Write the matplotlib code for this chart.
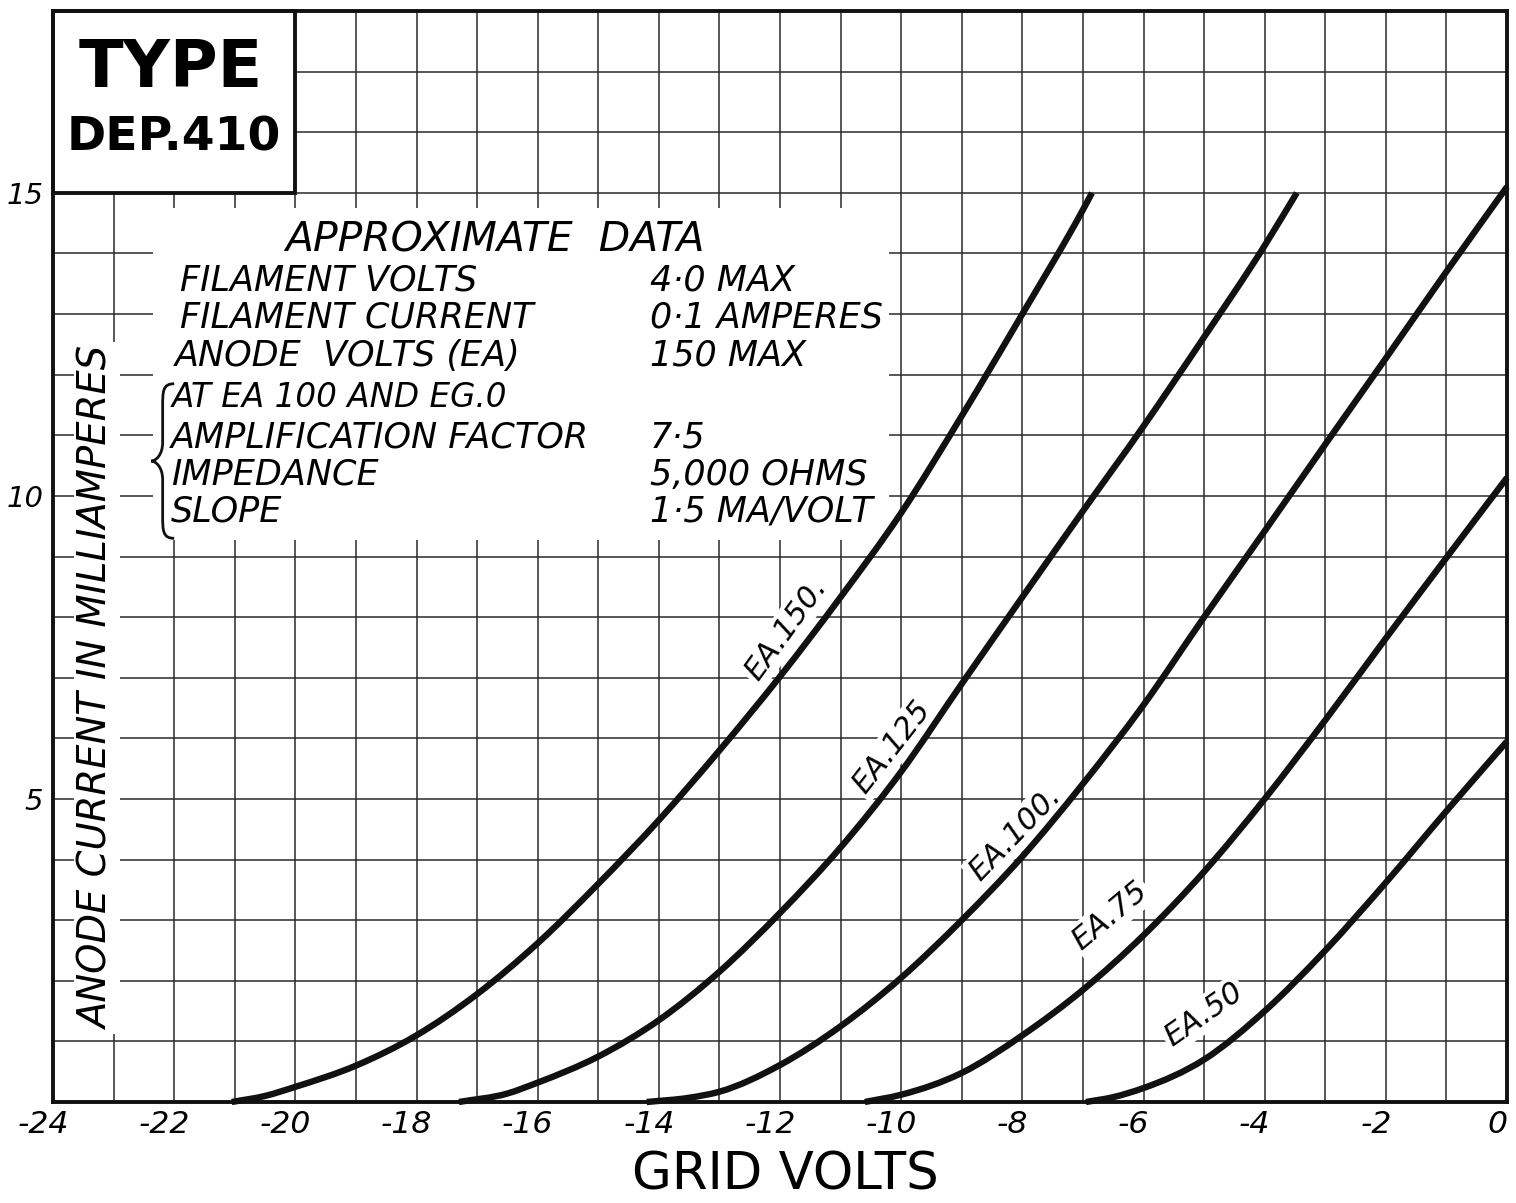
import numpy as np
import matplotlib
matplotlib.use("Agg")
import matplotlib.pyplot as plt
from matplotlib import font_manager, transforms
from matplotlib.patches import Rectangle, PathPatch
from matplotlib.path import Path

# --- data (grid volts, anode mA) ---
ea150_v = [-21.05, -20.5, -20, -19, -18, -17, -16, -15, -14, -13, -12, -11, -10, -9, -8, -7, -6.85]
ea150_i = [0, 0.1, 0.25, 0.6, 1.1, 1.78, 2.62, 3.6, 4.65, 5.8, 7.02, 8.33, 9.72, 11.32, 13.0, 14.72, 15.0]

ea125_v = [-17.3, -16.5, -16, -15, -14, -13, -12, -11, -10, -9, -8, -7, -6, -5, -4, -3.47]
ea125_i = [0, 0.14, 0.32, 0.75, 1.35, 2.15, 3.12, 4.2, 5.45, 6.9, 8.33, 9.75, 11.15, 12.62, 14.13, 15.0]

ea100_v = [-14.2, -13.5, -13, -12, -11, -10, -9, -8, -7, -6, -5, -4, -3, -2, -1, 0]
ea100_i = [0, 0.07, 0.17, 0.61, 1.25, 2.05, 3.0, 4.05, 5.25, 6.55, 8.0, 9.42, 10.85, 12.27, 13.7, 15.1]

ea75_v = [-10.6, -10, -9, -8, -7, -6, -5, -4, -3, -2, -1, 0]
ea75_i = [0, 0.12, 0.48, 1.1, 1.85, 2.75, 3.8, 5.0, 6.3, 7.65, 8.98, 10.3]

ea50_v = [-6.95, -6.5, -6, -5, -4, -3, -2, -1, 0]
ea50_i = [0, 0.08, 0.23, 0.7, 1.5, 2.5, 3.62, 4.8, 5.95]

curve_names = ["EA.150.", "EA.125", "EA.100.", "EA.75", "EA.50"]

x_ticks = list(range(-24, 1))
x_ticklabels = ["-24", "", "-22", "", "-20", "", "-18", "", "-16", "", "-14", "", "-12",
                "", "-10", "", "-8", "", "-6", "", "-4", "", "-2", "", "0"]
y_ticks = list(range(0, 19))
y_ticklabels = ["" if k not in (5, 10, 15) else str(k) for k in y_ticks]

data_labels = ["FILAMENT VOLTS", "FILAMENT CURRENT", "ANODE  VOLTS (EA)", "AT EA 100 AND EG.0",
               "AMPLIFICATION FACTOR", "IMPEDANCE", "SLOPE"]
data_values = ["4·0 MAX", "0·1 AMPERES", "150 MAX", "", "7·5", "5,000 OHMS", "1·5 MA/VOLT"]


# narrow font looks closer to the hand lettering, if we have it
try:
    font_manager.findfont("Liberation Sans Narrow", fallback_to_default=False)
    narrow = True
except ValueError:
    narrow = False
HAND = ["Liberation Sans Narrow", "DejaVu Sans"] if narrow else ["DejaVu Sans"]
k = 1.0 if narrow else 0.84   # shrink sizes a bit for the wider fallback


def smooth_path(v, i):
    # cubic hermite through the read points, so the pen line has no corners
    v = np.asarray(v, float)
    i = np.asarray(i, float)
    m = np.gradient(i, v)
    verts = [(v[0], i[0])]
    codes = [Path.MOVETO]
    for a in range(len(v) - 1):
        h = v[a+1] - v[a]
        verts += [(v[a] + h/3, i[a] + m[a]*h/3),
                  (v[a+1] - h/3, i[a+1] - m[a+1]*h/3),
                  (v[a+1], i[a+1])]
        codes += [Path.CURVE4]*3
    return Path(verts, codes)


def brace(ax, xl, xr, y0, y1, **kw):
    xm = (xl + xr) / 2
    h = y1 - y0
    ym = (y0 + y1) / 2
    verts = [(xr, y1),
             (xm, y1), (xm, y1 - 0.05*h), (xm, y1 - 0.15*h),
             (xm, ym + 0.12*h),
             (xm, ym + 0.04*h), (xl + 0.2*(xr - xl), ym), (xl, ym),
             (xl + 0.2*(xr - xl), ym), (xm, ym - 0.04*h), (xm, ym - 0.12*h),
             (xm, y0 + 0.15*h),
             (xm, y0 + 0.05*h), (xm, y0), (xr, y0)]
    codes = [Path.MOVETO] + [Path.CURVE4]*3 + [Path.LINETO] + [Path.CURVE4]*6 + \
            [Path.LINETO] + [Path.CURVE4]*3
    ax.add_patch(PathPatch(Path(verts, codes), fill=False, **kw))


fig = plt.figure(figsize=(15.16, 12.03), dpi=100)
ax = fig.add_axes([53/1516, 1 - 1102/1203, 1454/1516, 1091/1203])
ax.set_xlim(-24, 0)
ax.set_ylim(0, 18)

ax.set_axisbelow(True)
ax.set_xticks(x_ticks)
ax.set_yticks(y_ticks)
ax.grid(True, color="#2a2a2a", lw=1.1)
ax.tick_params(length=0)
ax.tick_params(axis="x", pad=6)
ax.tick_params(axis="y", pad=7)
ax.set_xticklabels(x_ticklabels, family=HAND, style="italic", fontsize=27*k)
ax.set_yticklabels(y_ticklabels, family=HAND, style="italic", fontsize=25*k)
# hand-lettered numbers sit a little left of their grid line
shift = transforms.ScaledTranslation(-10/100, 0, fig.dpi_scale_trans)
for lab in ax.get_xticklabels():
    lab.set_transform(lab.get_transform() + shift)

for s in ax.spines.values():
    s.set_linewidth(2.8)
    s.set_color("#111111")

# curves
series = [(ea150_v, ea150_i), (ea125_v, ea125_i), (ea100_v, ea100_i),
          (ea75_v, ea75_i), (ea50_v, ea50_i)]
for v, i in series:
    ax.add_patch(PathPatch(smooth_path(v, i), fill=False, edgecolor="#111111",
                           lw=4.6, capstyle="butt", joinstyle="round",
                           zorder=3, clip_on=False))

# curve labels (white behind them hides the grid, not the curve)
label_pos = [(-11.9, 7.8, 54), (-10.15, 5.85, 52), (-8.12, 4.42, 46),
             (-6.55, 3.07, 40), (-5.0, 1.45, 35)]
for name, (x, y, rot) in zip(curve_names, label_pos):
    ax.text(x, y, name, rotation=rot, ha="center", va="center", family=HAND,
            style="italic", fontsize=26*k, zorder=2.5, rotation_mode="anchor",
            bbox=dict(facecolor="white", edgecolor="none", pad=2))

# type box
ax.add_patch(Rectangle((-24, 15), 4, 3, facecolor="white", edgecolor="#111111",
                       lw=2.8, zorder=2, clip_on=False))
ax.text(-22.05, 17.05, "TYPE", ha="center", va="center", family="DejaVu Sans",
        weight="bold", fontsize=47, zorder=4)
ax.text(-22.0, 15.9, "DEP.410", ha="center", va="center",
        family=HAND, weight="bold", fontsize=47 if narrow else 34, zorder=4)

# approximate data block
ax.add_patch(Rectangle((-22.35, 9.27), 12.15, 5.48, facecolor="white",
                       edgecolor="none", zorder=1))
ax.text(-20.17, 14.22, "APPROXIMATE  DATA", ha="left", va="center", family=HAND,
        style="italic", fontsize=35*k, zorder=4)
row_y = [13.55, 12.94, 12.31, 11.63, 10.97, 10.35, 9.74]
row_x = [-21.9, -21.9, -21.99, -22.04, -22.05, -22.05, -22.05]
for lab, val, x, y in zip(data_labels, data_values, row_x, row_y):
    ax.text(x, y, lab, ha="left", va="center", family=HAND, style="italic",
            fontsize=(28 if lab.startswith("AT") else 30)*k, zorder=4)
    if val:
        ax.text(-14.15, y, val, ha="left", va="center", family=HAND,
                style="italic", fontsize=30*k, zorder=4)
brace(ax, -22.38, -22.0, 9.3, 11.85, color="#111111", lw=2.0, zorder=4)

# axis titles, lettered on the sheet
ax.text(-23.27, 6.83, "ANODE CURRENT IN MILLIAMPERES", rotation=90, ha="center",
        va="center", family=HAND, style="italic", fontsize=33*k, zorder=4,
        bbox=dict(facecolor="white", edgecolor="none", pad=3))
fig.text(785/1516, 1 - 1175/1203, "GRID VOLTS", ha="center", va="center",
         family=HAND, fontsize=44*k)

fig.savefig("out.png", dpi=100, facecolor="white")
